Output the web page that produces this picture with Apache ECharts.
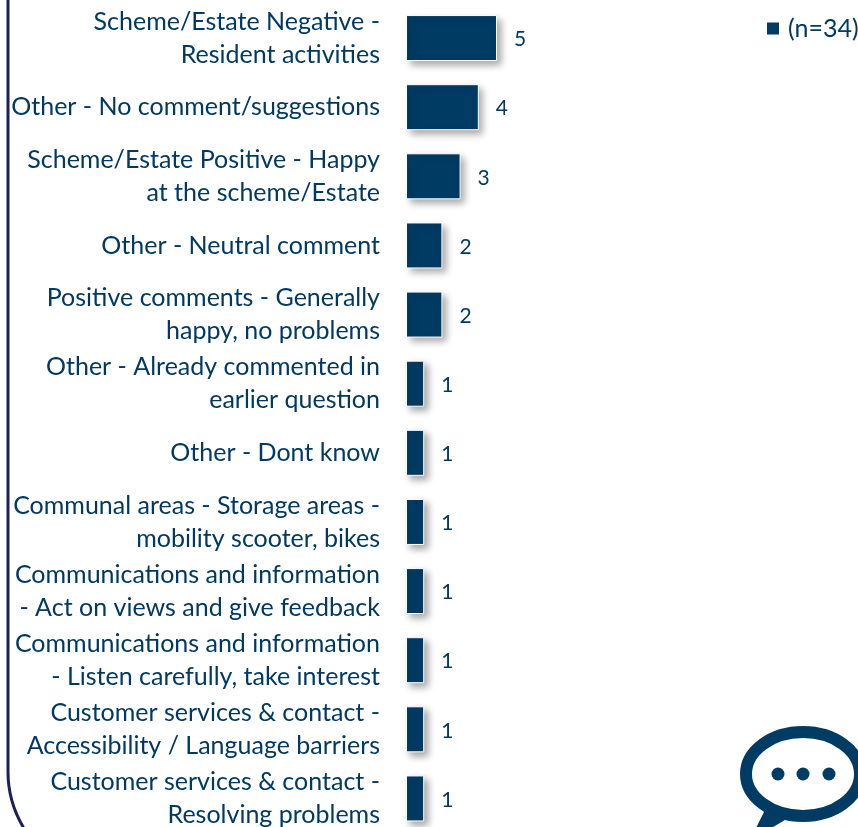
<!DOCTYPE html>
<html>
<head>
<meta charset="utf-8">
<style>html,body{margin:0;padding:0;background:#fff;overflow:hidden}#c{width:858px;height:827px}</style>
<script src="https://cdn.jsdelivr.net/npm/echarts@6/dist/echarts.min.js"></script>
</head>
<body>
<div id="c"></div>
<script>
const categories = [
  "Scheme/Estate Negative -\nResident activities",
  "Other - No comment/suggestions",
  "Scheme/Estate Positive - Happy\nat the scheme/Estate",
  "Other - Neutral comment",
  "Positive comments - Generally\nhappy, no problems",
  "Other - Already commented in\nearlier question",
  "Other - Dont know",
  "Communal areas - Storage areas -\nmobility scooter, bikes",
  "Communications and information\n- Act on views and give feedback",
  "Communications and information\n- Listen carefully, take interest",
  "Customer services & contact -\nAccessibility / Language barriers",
  "Customer services & contact -\nResolving problems"
];
const values = [5, 4, 3, 2, 2, 1, 1, 1, 1, 1, 1, 1];
const seriesName = "(n=34)";
const ink = "#003A63";
const font = "Lato";

const chart = echarts.init(document.getElementById('c'), null, {renderer: 'canvas'});
chart.setOption({
  animation: false,
  backgroundColor: '#fff',
  textStyle: {fontFamily: font},
  grid: {left: 406, top: 3.5, width: 364, height: 829.5, containLabel: false, outerBoundsMode: 'none'},
  xAxis: {type: 'value', min: 0, max: 20, show: false},
  yAxis: {
    type: 'category', inverse: true, data: categories,
    axisLine: {show: false}, axisTick: {show: false}, splitLine: {show: false},
    axisLabel: {color: ink, fontFamily: font, fontSize: 25, lineHeight: 33, margin: 26, align: 'right', interval: 0}
  },
  legend: {
    show: true, left: 760, top: 11, itemWidth: 14, itemHeight: 14, itemGap: 0,
    icon: 'rect', data: [seriesName],
    textStyle: {color: ink, fontFamily: font, fontSize: 25, padding: [0, 0, 0, 3]}
  },
  series: [{
    name: seriesName, type: 'bar', data: values, barWidth: 46,
    itemStyle: {color: '#003B64', borderColor: '#fff', borderWidth: 1,
      shadowColor: 'rgba(0,0,0,0.35)', shadowBlur: 7, shadowOffsetX: 4, shadowOffsetY: 4},
    label: {show: true, position: 'right', distance: 17, offset: [0, 1.5], color: ink, fontFamily: font, fontSize: 21}
  }],
  graphic: [
    {type: 'line', silent: true, shape: {x1: 8, y1: 0, x2: 8, y2: 772},
      style: {stroke: '#1C2058', lineWidth: 3}},
    {type: 'bezierCurve', silent: true, shape: {x1: 8, y1: 772, cpx1: 8, cpy1: 803, x2: 25, y2: 830},
      style: {fill: 'none', stroke: '#1C2058', lineWidth: 3}},
    {type: 'ellipse', silent: true, shape: {cx: 803, cy: 774, rx: 57, ry: 42},
      style: {fill: '#fff', stroke: '#003B64', lineWidth: 12}},
    {type: 'polygon', silent: true, shape: {points: [[755,830],[766,808],[785,820],[768,830]]},
      style: {fill: '#003B64'}},
    {type: 'circle', silent: true, shape: {cx: 778, cy: 774, r: 6.5}, style: {fill: '#003B64'}},
    {type: 'circle', silent: true, shape: {cx: 803, cy: 774, r: 6.5}, style: {fill: '#003B64'}},
    {type: 'circle', silent: true, shape: {cx: 829, cy: 774, r: 6.5}, style: {fill: '#003B64'}}
  ]
});
</script>
</body>
</html>
